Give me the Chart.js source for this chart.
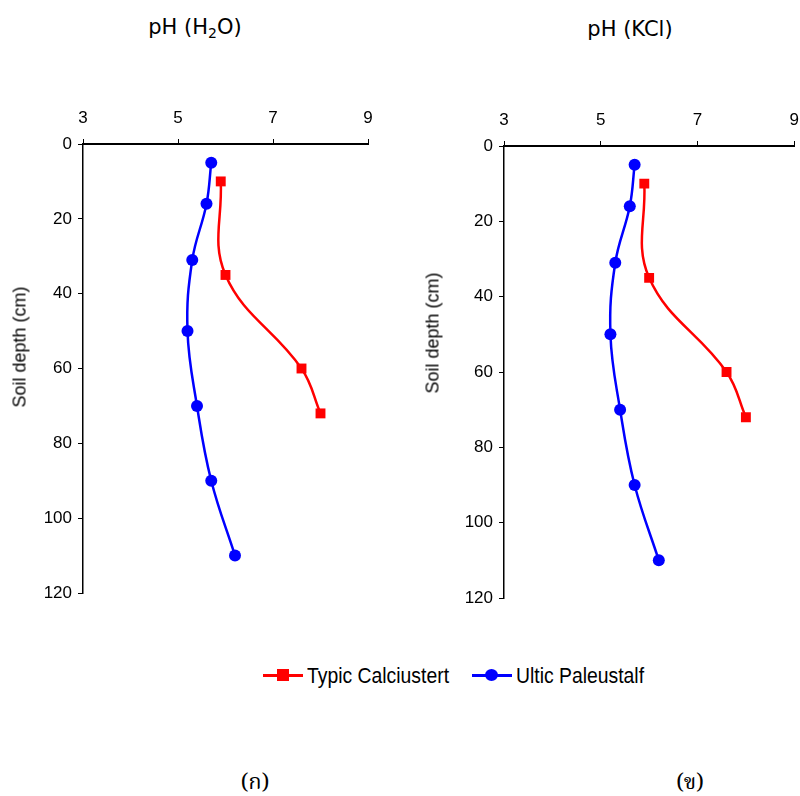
<!DOCTYPE html>
<html>
<head>
<meta charset="utf-8">
<script src="https://cdn.jsdelivr.net/npm/chart.js@4.4.0/dist/chart.umd.min.js"></script>
<style>
  body { margin: 0; background: #fff; width: 800px; height: 796px; position: relative; overflow: hidden; }
  canvas { position: absolute; top: 0; }
  .titulo { position: absolute; font-family: "DejaVu Sans", sans-serif; font-size: 21px; color: #000; transform: translateX(-50%); white-space: nowrap; }
  .titulo sub { font-size: 14px; vertical-align: -4px; }
  .eixo-y { position: absolute; font-family: "Liberation Sans", sans-serif; font-size: 18px; color: #000; white-space: nowrap; transform: translate(-50%, -50%) rotate(-90deg); }
  .legenda { position: absolute; top: 663px; left: 263px; font-family: "Liberation Sans", sans-serif; font-size: 22px; color: #000; white-space: nowrap; }
  .item { display: inline-block; }
  .txt { display: inline-block; transform: scaleX(0.88); transform-origin: left center; }
  .sym { display: inline-block; position: relative; width: 40px; height: 3px; vertical-align: middle; margin-right: 4px; top: -2px; }
  .sym i { position: absolute; left: 14px; top: -5px; width: 12px; height: 12px; }
  .rotulo { position: absolute; top: 766px; font-family: "Noto Serif Thai", "Noto Sans Thai", "Loma", "Garuda", serif; font-size: 22px; color: #000; transform: translateX(-50%); }
</style>
</head>
<body>
<div class="titulo" style="left:195px; top:15px;">pH (H<sub>2</sub>O)</div>
<div class="titulo" style="left:630px; top:17px;">pH (KCl)</div>

<canvas id="grafico-h2o" width="400" height="620" style="left:0"></canvas>
<canvas id="grafico-kcl" width="409" height="620" style="left:400px"></canvas>

<div class="eixo-y" style="left:20px; top:347px;">Soil depth (cm)</div>
<div class="eixo-y" style="left:433px; top:333px;">Soil depth (cm)</div>

<div class="legenda">
  <span class="item" style="width:209px;"><span class="sym" style="background:#ff0000"><i style="background:#ff0000"></i></span><span class="txt">Typic Calciustert</span></span><span class="item"><span class="sym" style="background:#0000ff"><i style="background:#0000ff; border-radius:50%; width:13px; left:13px;"></i></span><span class="txt">Ultic Paleustalf</span></span>
</div>

<div class="rotulo" style="left:255px;">(ก)</div>
<div class="rotulo" style="left:690px;">(ข)</div>

<script>
// Dados
const profBlue = [5, 16, 31, 50, 70, 90, 110];   // profundidade (cm) - Ultic Paleustalf
const profRed = [10, 35, 60, 72];                // profundidade (cm) - Typic Calciustert

const phH2OBlue = [5.7, 5.6, 5.3, 5.2, 5.4, 5.7, 6.2];
const phH2ORed = [5.9, 6.0, 7.6, 8.0];

const phKClBlue = [5.7, 5.6, 5.3, 5.2, 5.4, 5.7, 6.2];
const phKClRed = [5.9, 6.0, 7.6, 8.0];

const xTicks = [3, 5, 7, 9];
const yTicks = [0, 20, 40, 60, 80, 100, 120];

const fonteTicks = { family: 'Liberation Sans', size: 17 };

function pontos(ph, prof) {
    return ph.map((v, i) => ({ x: v, y: prof[i] }));
}

function criaPainel(id, phRed, phBlue, larguraY, padDir, alturaX, padBaixo) {
    const ctx = document.getElementById(id).getContext('2d');
    return new Chart(ctx, {
        type: 'scatter',
        data: {
            datasets: [
                {
                    label: 'Typic Calciustert',
                    data: pontos(phRed, profRed),
                    showLine: true,
                    tension: 0.4,
                    borderColor: '#ff0000',
                    backgroundColor: '#ff0000',
                    borderWidth: 2.5,
                    pointStyle: 'rect',
                    pointRadius: 7,
                    pointBorderWidth: 0
                },
                {
                    label: 'Ultic Paleustalf',
                    data: pontos(phBlue, profBlue),
                    showLine: true,
                    tension: 0.4,
                    borderColor: '#0000ff',
                    backgroundColor: '#0000ff',
                    borderWidth: 2.5,
                    pointStyle: 'circle',
                    pointRadius: 6,
                    pointBorderWidth: 0
                }
            ]
        },
        options: {
            responsive: false,
            animation: false,
            layout: { padding: { left: 0, right: padDir, top: 0, bottom: padBaixo } },
            plugins: {
                legend: { display: false },
                tooltip: { enabled: false },
                title: { display: false }
            },
            scales: {
                x: {
                    type: 'linear',
                    position: 'top',
                    min: 3,
                    max: 9,
                    afterBuildTicks: s => { s.ticks = xTicks.map(v => ({ value: v })); },
                    afterFit: s => { s.height = alturaX; },
                    ticks: { color: '#000', font: fonteTicks, padding: 10, maxRotation: 0 },
                    grid: { drawOnChartArea: false, color: '#000', tickLength: 5, lineWidth: 1 },
                    border: { display: true, color: '#000', width: 2 }
                },
                y: {
                    type: 'linear',
                    position: 'left',
                    reverse: true,
                    min: 0,
                    max: 120,
                    afterBuildTicks: s => { s.ticks = yTicks.map(v => ({ value: v })); },
                    afterFit: s => { s.width = larguraY; },
                    ticks: { color: '#000', font: fonteTicks, padding: 6 },
                    grid: { drawOnChartArea: false, color: '#000', tickLength: 5, lineWidth: 1 },
                    border: { display: true, color: '#000', width: 1.5 }
                }
            }
        }
    });
}

criaPainel('grafico-h2o', phH2ORed, phH2OBlue, 83, 32, 144, 27);
criaPainel('grafico-kcl', phKClRed, phKClBlue, 104, 0, 146, 22);
</script>
</body>
</html>
